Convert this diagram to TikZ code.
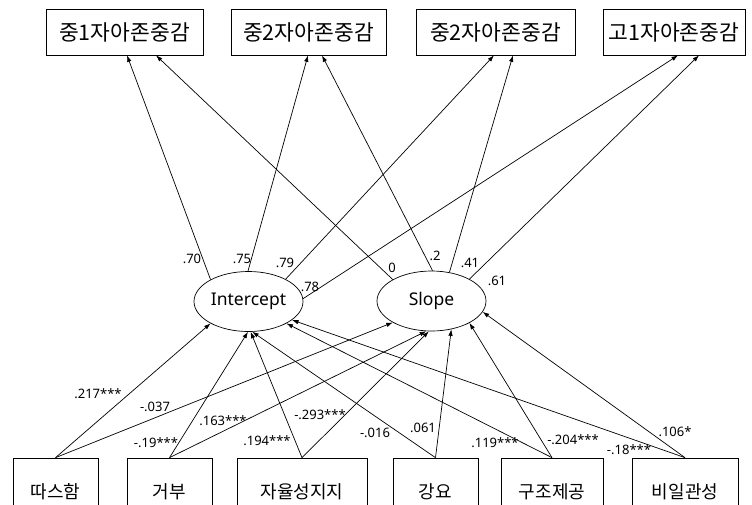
\documentclass[tikz,border=0pt]{standalone}
\usepackage{fontspec}
\setmainfont{Noto Sans}
\newfontfamily\kr{Noto Sans CJK KR}
\usetikzlibrary{shapes.geometric,arrows.meta}
\begin{document}
\begin{tikzpicture}[x=1pt,y=-1pt,
  topbox/.style={draw,line width=0.7pt,inner sep=0pt,minimum height=46pt,font=\kr\fontsize{21.5}{25}\selectfont},
  botbox/.style={draw,line width=0.7pt,inner sep=0pt,minimum height=68pt,font=\kr\fontsize{18}{22}\selectfont},
  latent/.style={draw,ellipse,line width=0.7pt,inner sep=0pt,minimum width=109pt,minimum height=60pt,font=\fontsize{17.5}{21}\selectfont},
  arr/.style={line width=0.7pt,-{Latex[length=6.5pt,width=4.5pt]}},
  lab/.style={inner sep=0pt,font=\fontsize{13}{15}\selectfont}]
\useasboundingbox (0,0) rectangle (752,504);
\clip (0,0) rectangle (752,504);
\fill[white] (0,0) rectangle (752,504);
% top boxes
\node[topbox,minimum width=157pt] (t1) at (124.5,32) {중1자아존중감};
\node[topbox,minimum width=155pt] (t2) at (308.5,32) {중2자아존중감};
\node[topbox,minimum width=159pt] (t3) at (495.5,32) {중2자아존중감};
\node[topbox,minimum width=142pt] (t4) at (674,32) {고1자아존중감};
% latent
\node[latent] (I) at (248.5,301.5) {Intercept};
\node[latent] (S) at (431.5,301) {Slope};
% bottom boxes
\node[botbox,minimum width=85pt] (b1) at (55.5,492) {따스함};
\node[botbox,minimum width=85pt] (b2) at (169.5,492) {거부};
\node[botbox,minimum width=130pt] (b3) at (302,492) {자율성지지};
\node[botbox,minimum width=85pt] (b4) at (435.5,492) {강요};
\node[botbox,minimum width=102pt] (b5) at (552,492) {구조제공};
\node[botbox,minimum width=106pt] (b6) at (685,492) {비일관성};
% loadings
\draw[arr] (I.150) -- ([xshift=2.5pt]t1.south);
\draw[arr] (I.91) -- ([xshift=-0.5pt]t2.south);
\draw[arr] (I.31) -- ([xshift=-1.5pt]t3.south);
\draw[arr] (I.3) -- ([xshift=4pt]t4.south);
\draw[arr] (S.151) -- ([xshift=31.5pt]t1.south);
\draw[arr] (S.88) -- ([xshift=13.5pt]t2.south);
\draw[arr] (S.58) -- ([xshift=17.5pt]t3.south);
\draw[arr] (S.30) -- ([xshift=25pt]t4.south);
% predictors
\draw[arr] (b1.north) -- (I.210);
\draw[arr] (b2.north) -- (I.269);
\draw[arr] (b3.north) -- (I.274);
\draw[arr] (b4.north) -- (I.277);
\draw[arr] (b5.north) -- (I.330);
\draw[arr] (b6.north) -- (I.337);
\draw[arr] (b1.north) -- (S.209);
\draw[arr] (b2.north) -- (S.260);
\draw[arr] (b3.north) -- (S.265);
\draw[arr] (b4.north) -- (S.305);
\draw[arr] (b5.north) -- (S.330);
\draw[arr] (b6.north) -- (S.348);
% labels
\node[lab] (l1) at (192,259) {.70};
\node[lab] (l2) at (242,259) {.75};
\node[lab] (l3) at (285,263) {.79};
\node[lab] (l4) at (310,287) {.78};
\node[lab] (l5) at (392,268) {0};
\node[lab] (l6) at (435,256) {.2};
\node[lab] (l7) at (470,263) {.41};
\node[lab] (l8) at (497,281) {.61};
\node[lab] (m1) at (98,394) {.217***};
\node[lab] (m2) at (155,407) {-.037};
\node[lab] (m3) at (223,421) {.163***};
\node[lab] (m4) at (156,443) {-.19***};
\node[lab] (m5) at (267,441) {.194***};
\node[lab] (m6) at (320,415) {-.293***};
\node[lab] (m7) at (375,433) {-.016};
\node[lab] (m8) at (423,428) {.061};
\node[lab] (m9) at (495,443) {.119***};
\node[lab] (m10) at (573,440) {-.204***};
\node[lab] (m11) at (629,450) {-.18***};
\node[lab] (m12) at (675,432) {.106*};
\end{tikzpicture}
\end{document}
